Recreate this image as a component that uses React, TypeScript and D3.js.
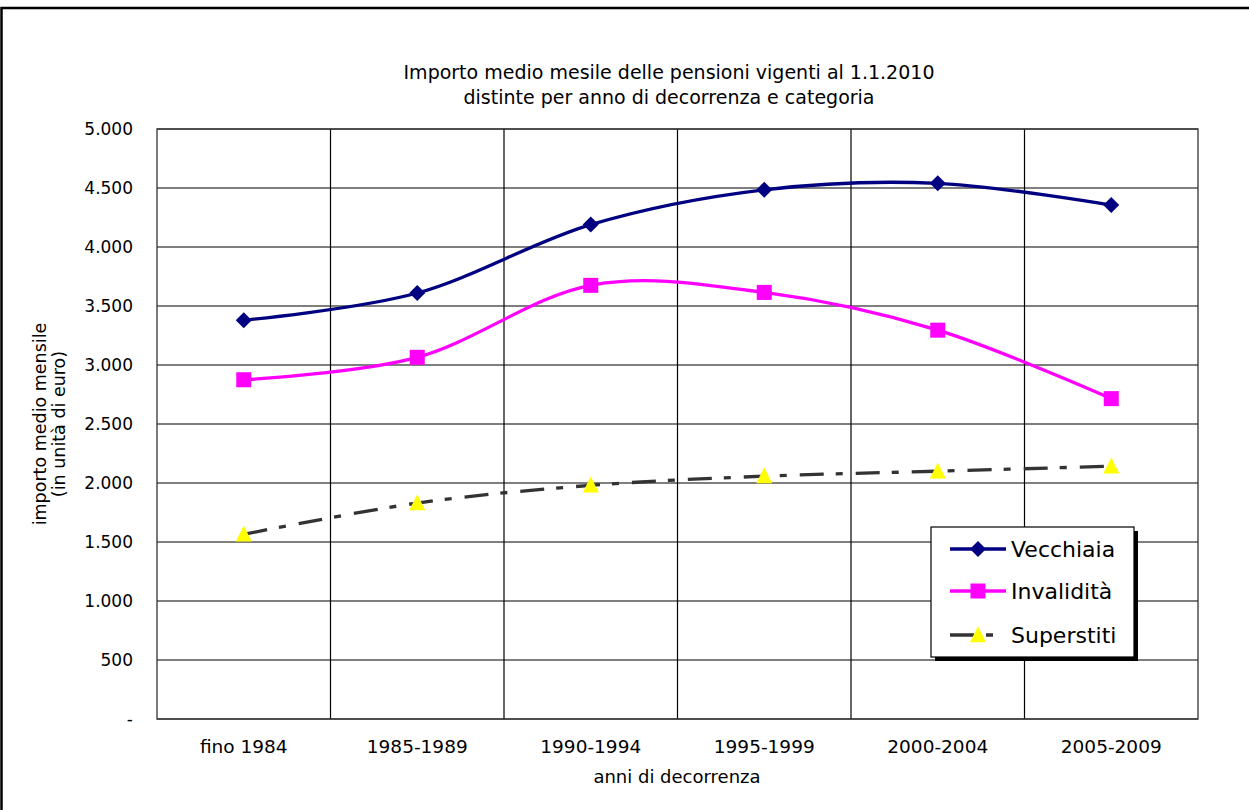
import React from "react";
import * as d3 from "d3";

const categories = ["fino 1984", "1985-1989", "1990-1994", "1995-1999", "2000-2004", "2005-2009"];
const vecchiaia = [3380, 3610, 4190, 4485, 4540, 4355];
const invalidita = [2875, 3065, 3675, 3615, 3295, 2715];
const superstiti = [1565, 1830, 1980, 2058, 2100, 2142];
const yTicks = [0, 500, 1000, 1500, 2000, 2500, 3000, 3500, 4000, 4500, 5000];
const yTickLabels = ["-", "500", "1.000", "1.500", "2.000", "2.500", "3.000", "3.500", "4.000", "4.500", "5.000"];
const seriesNames = ["Vecchiaia", "Invalidità", "Superstiti"];

const W = 1249, H = 810;
const left = 157, right = 1198, top = 129, bottom = 719;
const FONT = "'DejaVu Sans', Verdana, sans-serif";

export default function App() {
  const x = d3.scaleBand<string>().domain(categories).range([left, right]);
  const y = d3.scaleLinear().domain([0, 5000]).range([bottom, top]);
  const cx = (c: string) => (x(c) as number) + x.bandwidth() / 2;
  const line = d3
    .line<number>()
    .x((_, i) => cx(categories[i]))
    .y((d) => y(d))
    .curve(d3.curveCardinal.tension(0));

  const diamond = (px: number, py: number, r = 8) =>
    `M${px},${py - r}L${px + r},${py}L${px},${py + r}L${px - r},${py}Z`;
  const tri = (px: number, py: number, s = 16) =>
    `M${px},${py - s * 0.55}L${px + s / 2},${py + s * 0.45}L${px - s / 2},${py + s * 0.45}Z`;
  const dash = "24,12,7,13";

  const legendX = 931, legendY = 527, legendW = 203, legendH = 130;
  const legendRows = [549, 591, 635];

  return (
    <svg width={W} height={H} style={{ position: "absolute", left: 0, top: 0, background: "#fff" }} fontFamily={FONT}>
      <rect x={0} y={0} width={W} height={H} fill="#fff" />
      <rect x={1.5} y={8} width={W + 10} height={H + 10} fill="none" stroke="#000" strokeWidth={2.5} />

      {/* title */}
      <text x={669} y={79} textAnchor="middle" fontSize={19} fill="#000">
        Importo medio mesile delle pensioni vigenti al 1.1.2010
      </text>
      <text x={669} y={104} textAnchor="middle" fontSize={19} fill="#000">
        distinte per anno di decorrenza e categoria
      </text>

      {/* grid */}
      {yTicks.map((t) => (
        <line key={"h" + t} x1={left} x2={right} y1={y(t)} y2={y(t)} stroke="#000" strokeWidth={1.2} />
      ))}
      {categories.map((c, i) =>
        i > 0 ? (
          <line key={"v" + c} x1={x(c)} x2={x(c)} y1={top} y2={bottom} stroke="#000" strokeWidth={1.2} />
        ) : null
      )}
      <rect x={left} y={top} width={right - left} height={bottom - top} fill="none" stroke="#333" strokeWidth={1.3} />

      {/* y tick labels */}
      {yTicks.map((t, i) => (
        <text key={"yl" + t} x={133} y={y(t)} dy="0.36em" textAnchor="end" fontSize={17} fill="#000">
          {yTickLabels[i]}
        </text>
      ))}
      {/* x tick labels */}
      {categories.map((c) => (
        <text key={"xl" + c} x={cx(c)} y={753} textAnchor="middle" fontSize={18.5} fill="#000">
          {c}
        </text>
      ))}
      <text x={677} y={783} textAnchor="middle" fontSize={18} fill="#000">
        anni di decorrenza
      </text>
      <g transform="translate(0,424) rotate(-90)">
        <text x={0} y={46} textAnchor="middle" fontSize={17.5} fill="#000">
          importo medio mensile
        </text>
        <text x={0} y={65} textAnchor="middle" fontSize={17.5} fill="#000">
          (in unità di euro)
        </text>
      </g>

      {/* series */}
      <path d={line(superstiti) || ""} fill="none" stroke="#333" strokeWidth={3.3} strokeDasharray={dash} />
      <path d={line(invalidita) || ""} fill="none" stroke="#FF00FF" strokeWidth={3.3} />
      <path d={line(vecchiaia) || ""} fill="none" stroke="#000080" strokeWidth={3.3} />

      {vecchiaia.map((v, i) => (
        <path key={"dv" + i} d={diamond(cx(categories[i]), y(v))} fill="#000080" />
      ))}
      {invalidita.map((v, i) => (
        <rect key={"sq" + i} x={cx(categories[i]) - 7.5} y={y(v) - 7.5} width={15} height={15} fill="#FF00FF" />
      ))}
      {superstiti.map((v, i) => (
        <path key={"tr" + i} d={tri(cx(categories[i]), y(v))} fill="#FFFF00" />
      ))}

      {/* legend */}
      <rect x={legendX + 4} y={legendY + 4} width={legendW} height={legendH} fill="#000" />
      <rect x={legendX} y={legendY} width={legendW} height={legendH} fill="#fff" stroke="#000" strokeWidth={1.2} />
      <line x1={950} x2={1006} y1={legendRows[0]} y2={legendRows[0]} stroke="#000080" strokeWidth={3.3} />
      <path d={diamond(978, legendRows[0])} fill="#000080" />
      <line x1={950} x2={1006} y1={legendRows[1]} y2={legendRows[1]} stroke="#FF00FF" strokeWidth={3.3} />
      <rect x={970.5} y={legendRows[1] - 7.5} width={15} height={15} fill="#FF00FF" />
      <line x1={950} x2={1006} y1={legendRows[2]} y2={legendRows[2]} stroke="#333" strokeWidth={3.3} strokeDasharray="24,12,7,13" />
      <path d={tri(978, legendRows[2])} fill="#FFFF00" />
      {seriesNames.map((s, i) => (
        <text key={"lg" + s} x={1011} y={legendRows[i]} dy="0.36em" fontSize={22} fill="#000">
          {s}
        </text>
      ))}
    </svg>
  );
}
